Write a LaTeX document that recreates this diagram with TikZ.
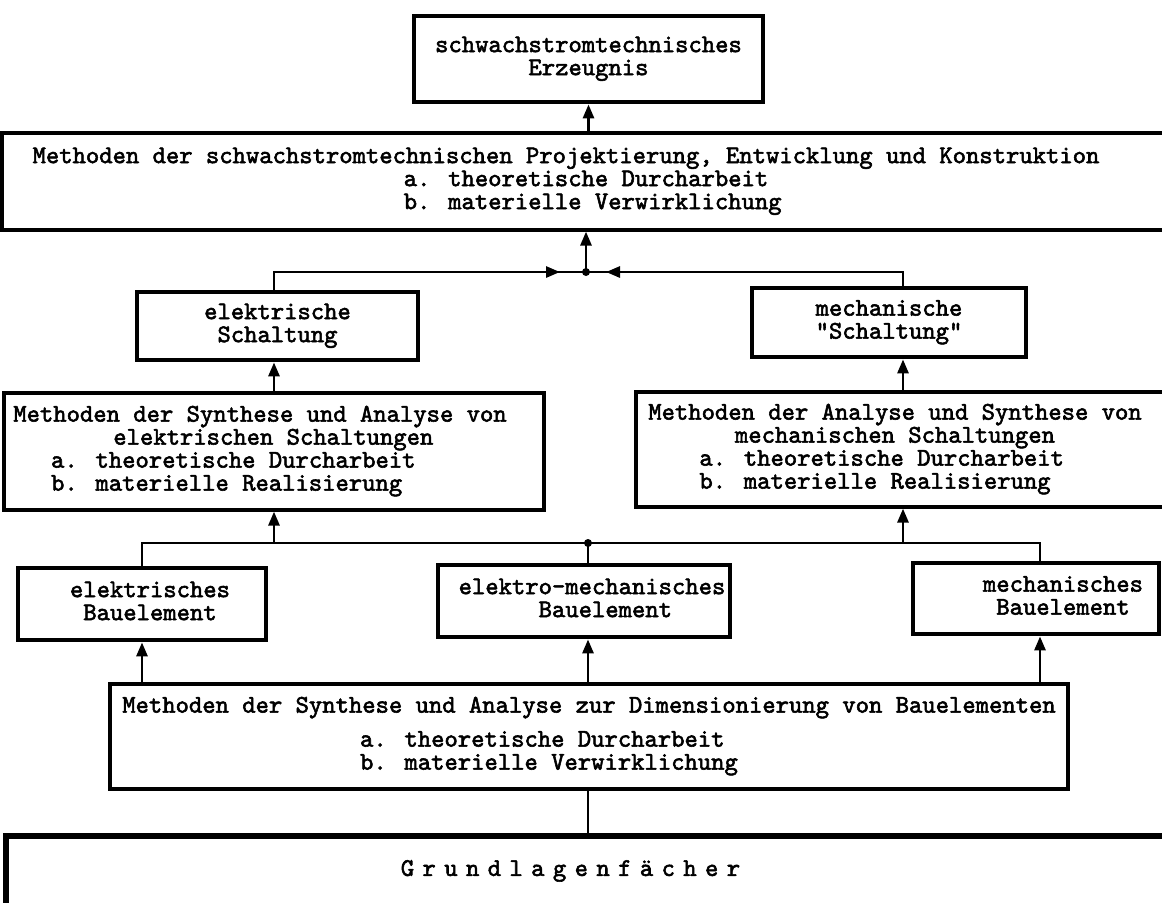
\documentclass[tikz,border=0pt]{standalone}
\usepackage{fontspec}
\newfontfamily\twfont{lmmono10-regular.otf}[FakeBold=2.2]
\usetikzlibrary{arrows.meta,calc}
\def\px{0.5pt}
\newcommand{\tb}[1]{\begin{tabular}{@{}c@{}}#1\end{tabular}}
\tikzset{
  tw/.style={font=\fontsize{12.7pt}{11.5pt}\selectfont\twfont, inner sep=0pt, rectangle},
  thickbox/.style={tw, draw, line width=2.4pt},
  methbox/.style={tw, draw, line width=1.6pt},
  conn/.style={line width=1.4pt},
  arr/.style={conn, -{Triangle[length=7pt,width=5.5pt]}},
}
\begin{document}
\begin{tikzpicture}[x=0.5pt,y=-0.5pt]
\useasboundingbox (0,0) rectangle (1162,902);
\clip (0,0) rectangle (1162,902);

% boxes
\node[thickbox, minimum width=349*\px, minimum height=86*\px] (erz) at (588.5,59)
  {\tb{schwachstromtechnisches\\Erzeugnis}};
\node[methbox, minimum width=1168*\px, minimum height=97*\px] (pk) at (586,181.5)
  {\tb{Methoden der schwachstromtechnischen Projektierung, Entwicklung und Konstruktion\\
   \phantom{xxxx}a. theoretische Durcharbeit\phantom{x}\\
   \phantom{xxxx}b. materielle Verwirklichung}\hspace*{20pt}};
\node[thickbox, minimum width=281*\px, minimum height=68*\px] (elS) at (277.5,326)
  {\tb{elektrische\\Schaltung}};
\node[thickbox, minimum width=274*\px, minimum height=69*\px] (mS) at (889,322.5)
  {\tb{mechanische\\"Schaltung"}};
\node[methbox, minimum width=540*\px, minimum height=117*\px] (ml) at (274,451.5)
  {\tb{Methoden der Synthese und Analyse von\\
   \phantom{xx}elektrischen Schaltungen\\
   a. theoretische Durcharbeit\phantom{xxxx}\\
   b. materielle Realisierung\phantom{xxxxx}}\hspace*{14pt}};
\node[methbox, minimum width=530*\px, minimum height=115*\px] (mr) at (901,449.5)
  {\tb{Methoden der Analyse und Synthese von\\
   mechanischen Schaltungen\\
   a. theoretische Durcharbeit\phantom{xx}\\
   b. materielle Realisierung\phantom{xxx}}\hspace*{6pt}};
\node[thickbox, minimum width=248*\px, minimum height=72*\px] (elB) at (142,604)
  {\hspace*{8pt}\tb{elektrisches\\Bauelement}};
\node[thickbox, minimum width=292*\px, minimum height=72*\px] (emB) at (584,601)
  {\hspace*{8pt}\tb{elektro-mechanisches\\\phantom{xx}Bauelement}};
\node[thickbox, minimum width=246*\px, minimum height=71*\px] (mB) at (1036,598.5)
  {\hspace*{27pt}\tb{mechanisches\\Bauelement}};
\node[methbox, minimum width=958*\px, minimum height=105*\px] (dim) at (589,736.5)
  {\tb{Methoden der Synthese und Analyse zur Dimensionierung von Bauelementen\\[5.5pt]
   a. theoretische Durcharbeit\phantom{xxxxxxx}\\
   b. materielle Verwirklichung\phantom{xxxxxx}}};
\node[thickbox, line width=3pt, minimum width=1169*\px, minimum height=90*\px] (gr) at (590.5,881)
  {{\spaceskip=4.2pt\relax G r u n d l a g e n f ä c h e r}\rule[-13pt]{0pt}{13pt}\hspace*{20pt}};

% junction coordinates
\coordinate (j1) at (586,272);
\coordinate (l1) at (274,272);
\coordinate (r1) at (903,272);
\coordinate (j2) at (588,543);
\coordinate (l2) at (142,543);
\coordinate (r2) at (1040,543);

% top connections
\draw[arr] (pk.north -| erz.south) -- (erz.south);
\draw[arr] (j1) -- (j1 |- pk.south);
\draw[conn] (l1 |- elS.north) -- (l1) -- (r1) -- (r1 |- mS.north);
\draw[arr] ($(j1)+(-48,0)$) -- ($(j1)+(-26,0)$);
\draw[arr] ($(j1)+(44,0)$) -- ($(j1)+(20,0)$);
\fill (j1) circle (4);

% methods -> Schaltung
\draw[arr] (l1 |- ml.north) -- (l1 |- elS.south);
\draw[arr] (r1 |- mr.north) -- (r1 |- mS.south);

% second junction
\draw[conn] (l2 |- elB.north) -- (l2) -- (r2) -- (r2 |- mB.north);
\draw[conn] (j2) -- (j2 |- emB.north);
\draw[arr] (l1 |- j2) -- (l1 |- ml.south);
\draw[arr] (r1 |- j2) -- (r1 |- mr.south);
\fill (j2) circle (4);

% Bauelemente from dimension box
\draw[arr] (l2 |- dim.north) -- (l2 |- elB.south);
\draw[arr] (j2 |- dim.north) -- (j2 |- emB.south);
\draw[arr] (r2 |- dim.north) -- (r2 |- mB.south);

% Grundlagen
\draw[conn] (j2 |- dim.south) -- (j2 |- gr.north);
\end{tikzpicture}
\end{document}
